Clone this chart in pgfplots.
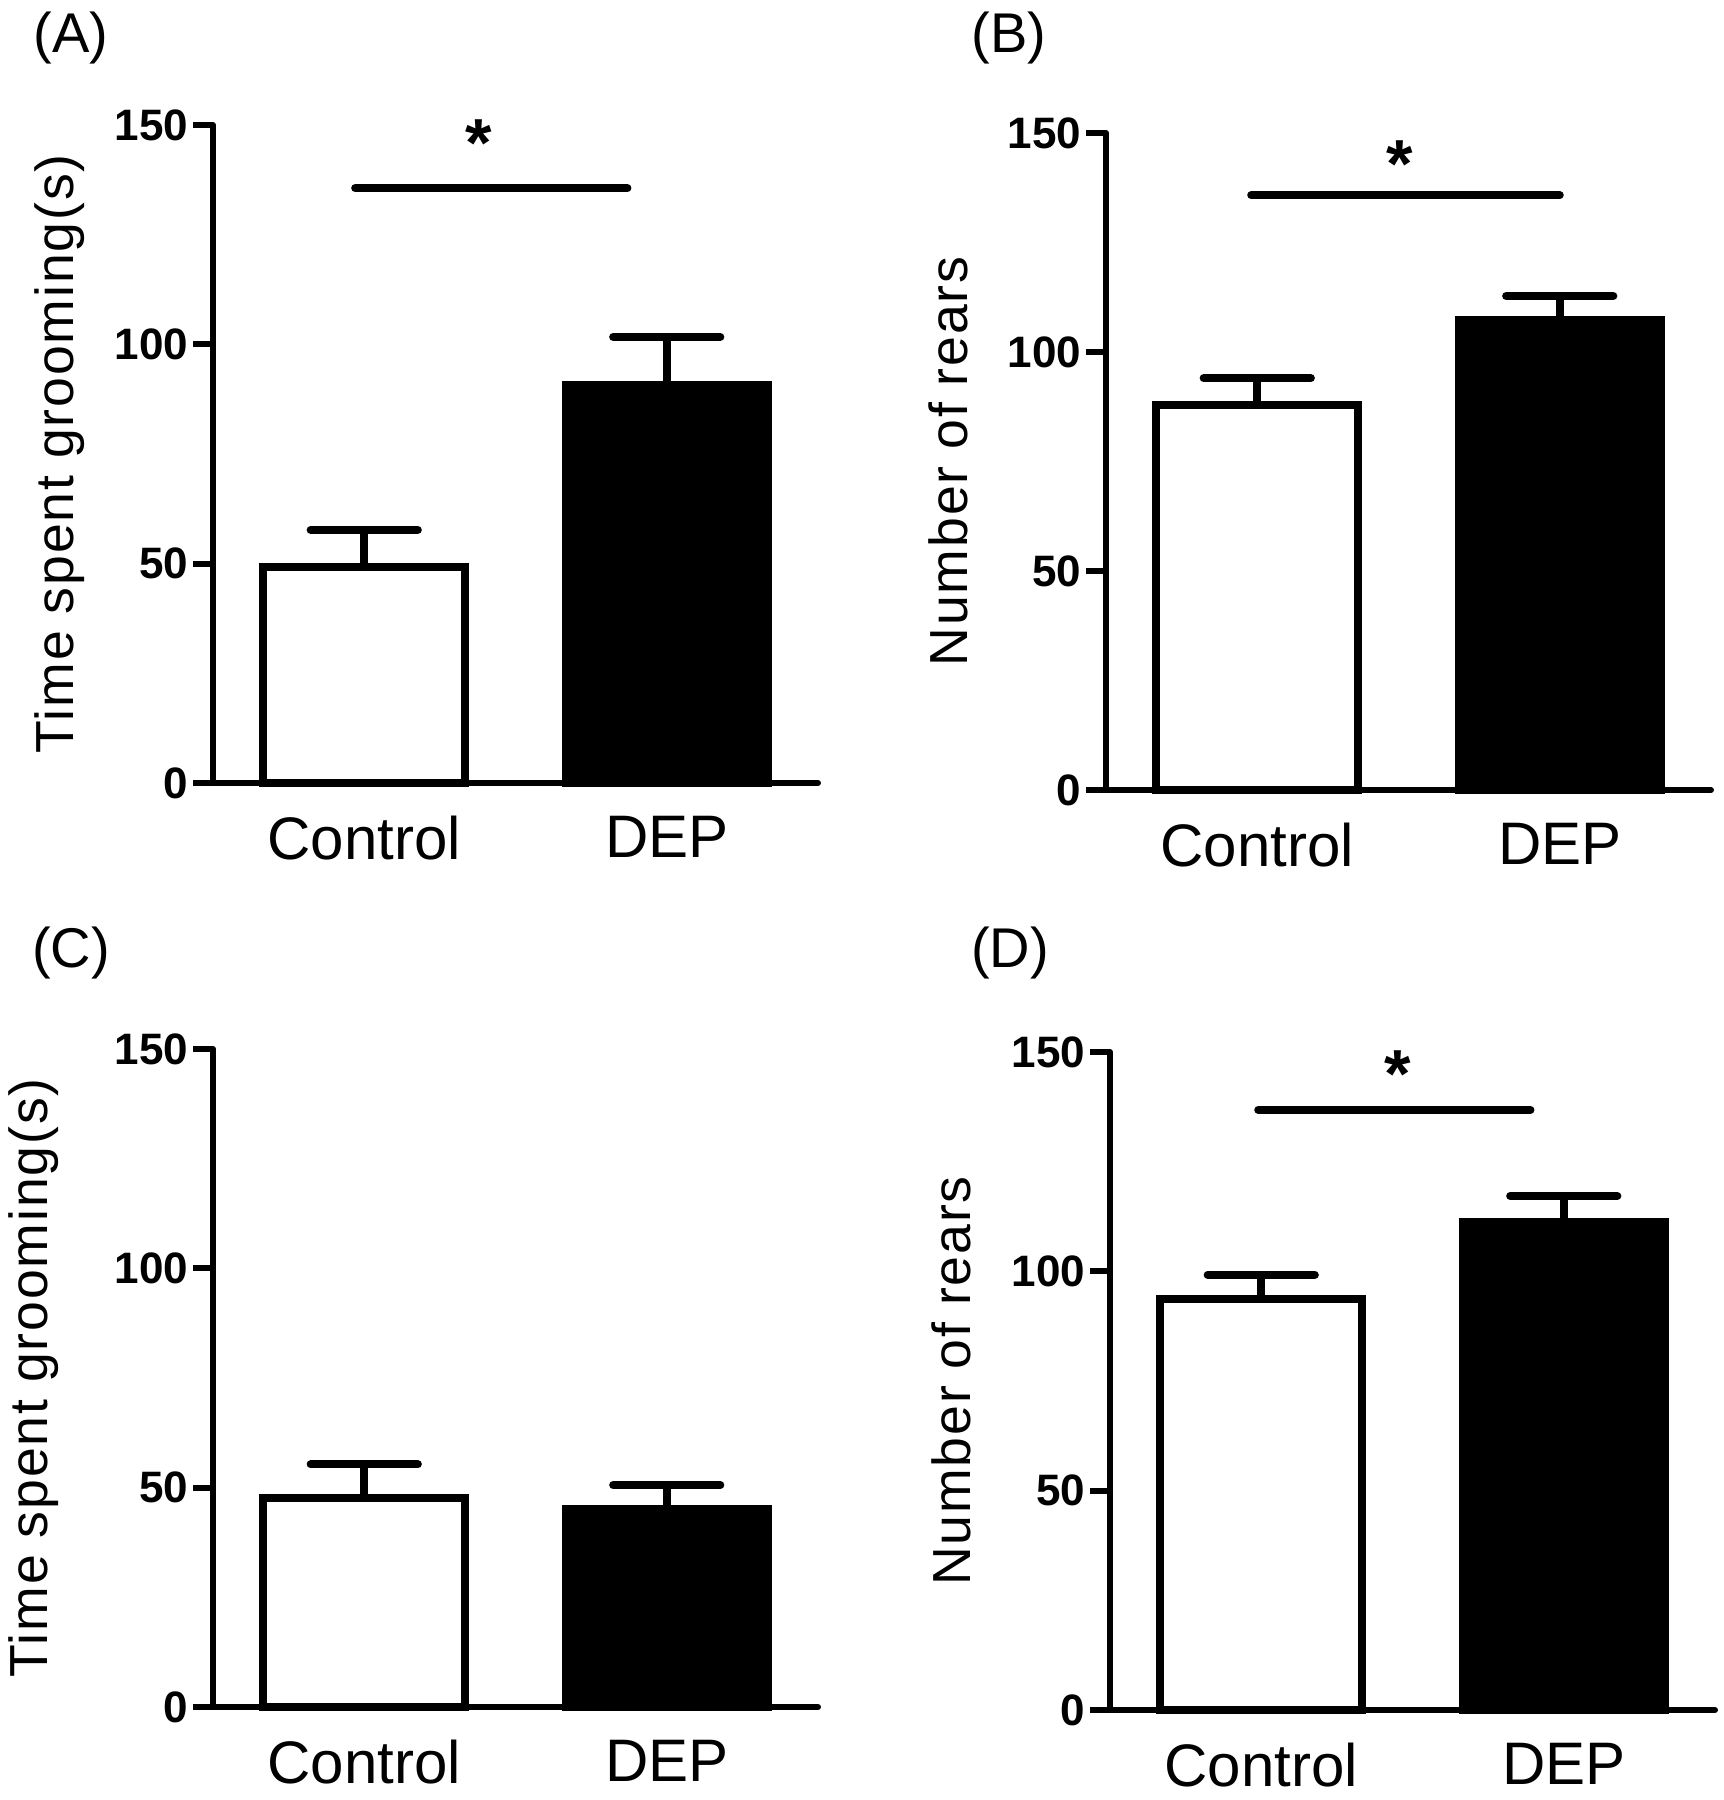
\documentclass[border=0pt]{standalone}
\usepackage{fontspec}
\setmainfont{Liberation Sans}
\newfontfamily\labelfont[LetterSpace=3.5]{Liberation Sans}
\usepackage{pgfplots}
\pgfplotsset{compat=1.18}

\pgfplotsset{
  panel/.style={
    scale only axis, width=151.25pt, height=164.5pt,
    anchor=south west,
    xmin=-0.5, xmax=1.5, ymin=0, ymax=150,
    axis lines=left,
    axis line style={-, line width=1.5pt, line cap=round},
    xtick={0,1}, xticklabels={Control,DEP},
    x tick style={draw=none},
    ytick={0,50,100,150},
    tick align=outside, major tick length=5pt,
    y tick style={line width=1.5pt, black},
    ytick pos=left,
    /pgf/number format/assume math mode=true,
    yticklabel style={font=\fontsize{11}{13}\selectfont\bfseries, inner sep=1pt},
    xticklabel style={font=\fontsize{15}{18}\selectfont, inner sep=0pt, yshift=-3pt},
    ylabel style={font=\labelfont\fontsize{13.4}{16}\selectfont, anchor=center},
    clip=false,
  },
  ctrl/.style={ybar, bar width=0.667, bar shift=0pt, fill=white, draw=black, line width=2pt,
    error bars/.cd, y dir=plus, y explicit,
    error bar style={line width=2pt, black},
    error mark options={rotate=90, line width=2pt, mark size=13.4pt, black, line cap=round}},
  dep/.style={ybar, bar width=0.667, bar shift=0pt, fill=black, draw=black, line width=2pt,
    error bars/.cd, y dir=plus, y explicit,
    error bar style={line width=2pt, black},
    error mark options={rotate=90, line width=2pt, mark size=13.4pt, black, line cap=round}},
  sig/.style={line width=2pt, line cap=round, black, no marks},
}
\newcommand{\starfont}{\bfseries\fontsize{17}{17}\selectfont}

\begin{document}
\begin{tikzpicture}
\useasboundingbox (0,0) rectangle (431pt,450pt);

% (A)
\begin{axis}[panel, at={(53.25pt,254.25pt)},
  ylabel={Time spent grooming(s)},
  ylabel style={at={(axis description cs:-0.253,0.5)}}]
\addplot[ctrl] coordinates {(0,49.3) +- (0,8.4)};
\addplot[dep] coordinates {(1,90.8) +- (0,10.9)};
\addplot[sig] coordinates {(-0.03,135.6) (0.87,135.6)};
\node[font=\starfont] at (axis cs:0.38,145.8) {*};
\end{axis}

% (B)
\begin{axis}[panel, at={(276.5pt,252.5pt)}, height=164.25pt,
  ylabel={Number of rears},
  ylabel style={at={(axis description cs:-0.261,0.5)}}]
\addplot[ctrl] coordinates {(0,87.8) +- (0,6.2)};
\addplot[dep] coordinates {(1,107.4) +- (0,5.4)};
\addplot[sig] coordinates {(-0.02,135.8) (1.0,135.8)};
\node[font=\starfont] at (axis cs:0.47,143.0) {*};
\end{axis}

% (C)
\begin{axis}[panel, at={(53.25pt,23.25pt)},
  ylabel={Time spent grooming(s)},
  ylabel style={at={(axis description cs:-0.296,0.5)}}]
\addplot[ctrl] coordinates {(0,47.7) +- (0,7.6)};
\addplot[dep] coordinates {(1,45.2) +- (0,5.4)};
\end{axis}

% (D)
\begin{axis}[panel, at={(277.5pt,22.5pt)},
  ylabel={Number of rears},
  ylabel style={at={(axis description cs:-0.263,0.5)}}]
\addplot[ctrl] coordinates {(0,93.6) +- (0,5.6)};
\addplot[dep] coordinates {(1,111.2) +- (0,6.0)};
\addplot[sig] coordinates {(-0.01,136.8) (0.89,136.8)};
\node[font=\starfont] at (axis cs:0.45,144.9) {*};
\end{axis}

\node[font=\fontsize{14}{16}\selectfont] at (17.75pt,440.5pt) {(A)};
\node[font=\fontsize{14}{16}\selectfont] at (252.25pt,440.5pt) {(B)};
\node[font=\fontsize{14}{16}\selectfont] at (17.75pt,211.75pt) {(C)};
\node[font=\fontsize{14}{16}\selectfont] at (252.5pt,211.75pt) {(D)};
\end{tikzpicture}
\end{document}
